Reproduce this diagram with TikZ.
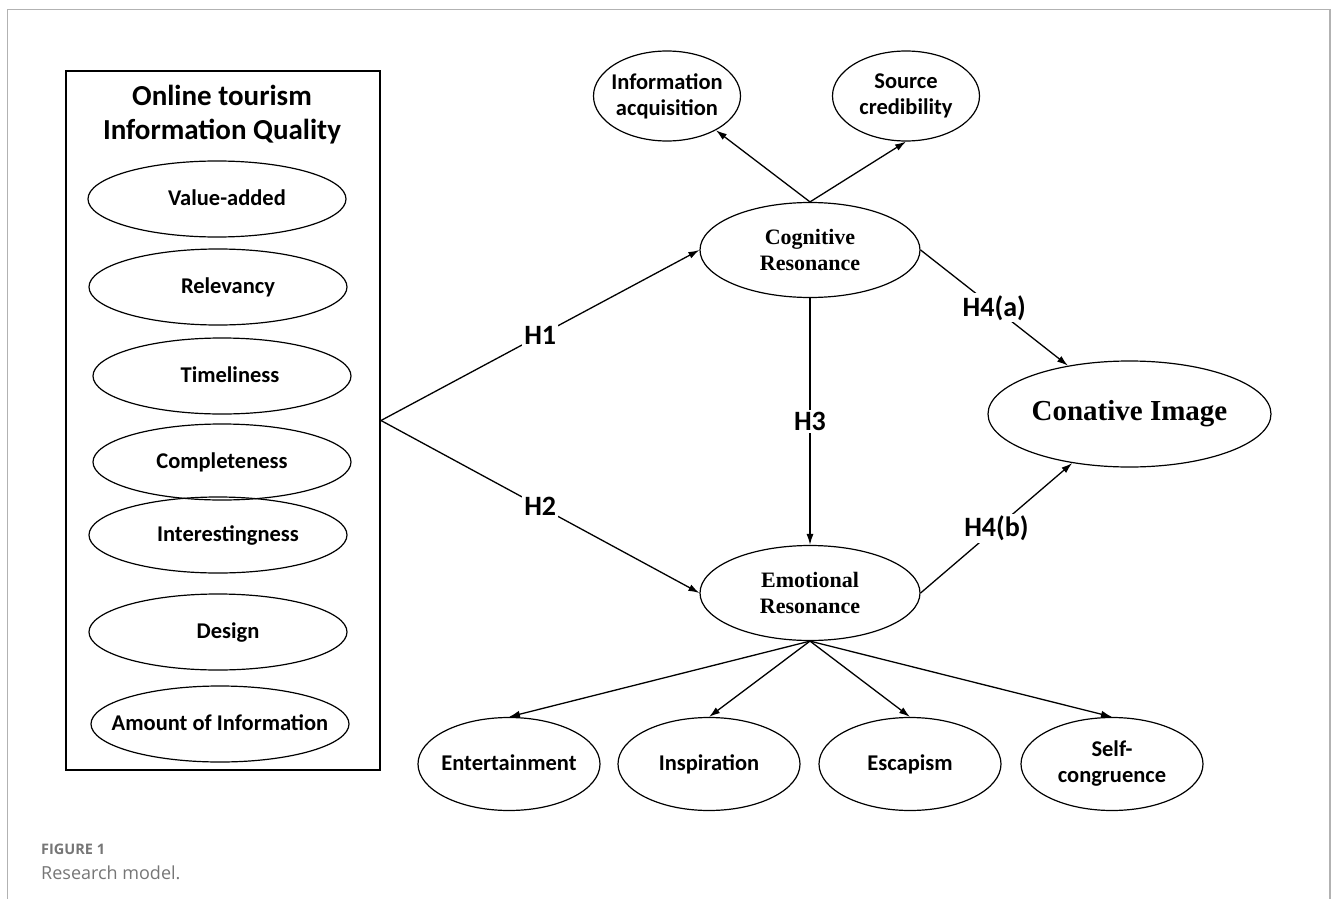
\documentclass[tikz,border=0pt]{standalone}
\usepackage{fontspec}
\setmainfont{Carlito}
\newfontfamily\timesfont{Liberation Serif}
\newfontfamily\captionfont{Open Sans}
\usepackage{xcolor}
\usetikzlibrary{arrows.meta,shapes}
\definecolor{framegray}{RGB}{178,178,178}
\definecolor{capgray}{RGB}{118,118,118}

\begin{document}
\begin{tikzpicture}[x=1pt,y=-1pt,
	dim/.style={draw,ellipse,line width=1.2pt,inner ysep=0pt,inner xsep=-40pt,align=center,
		font=\fontsize{22.5}{26}\selectfont\bfseries},
	one/.style={text height=16pt,text depth=3pt},
	qual/.style={dim,one,minimum width=258pt,minimum height=76pt},
	sub/.style={dim,minimum width=182pt,minimum height=93pt},
	res/.style={dim,minimum width=220pt,minimum height=95pt,
		font=\timesfont\fontsize{22}{26}\selectfont\bfseries},
	hyp/.style={fill=white,inner sep=2pt,font=\fontsize{28}{30}\selectfont\bfseries}]
	\useasboundingbox (0,0) rectangle (1331,899);
	% page frame
	\draw[framegray,line width=1.3pt] (7.5,899) -- (7.5,9.5) -- (1330,9.5) -- (1330,899);
	% quality box
	\node[draw,line width=2pt,minimum width=314pt,minimum height=699pt,inner sep=0pt] (box) at (223,420.5) {};
	\node[font=\fontsize{29}{34}\selectfont\bfseries,align=center] (title) at (222,115) {Online tourism\\Information Quality};
	\node[qual] (val) at (217,199) {\hspace*{20pt}Value-added};
	\node[qual] (rel) at (218,287) {\hspace*{20pt}Relevancy};
	\node[qual] (tim) at (222,376) {\hspace*{16pt}Timeliness};
	\node[qual] (com) at (222,462) {Completeness};
	\node[qual] (int) at (218,535) {\hspace*{20pt}Interestingness};
	\node[qual] (des) at (218,632) {\hspace*{20pt}Design};
	\node[qual] (amo) at (220,724) {Amount of Information};
	\coordinate (branch) at (box.east);
	% nodes
	\node[res] (cog) at (810,250) {Cognitive\\Resonance};
	\node[res] (emo) at (810,593) {Emotional\\Resonance};
	\node[dim,minimum width=147pt,minimum height=90pt] (acq) at (667,96) {Information\\acquisition};
	\node[dim,minimum width=147pt,minimum height=90pt] (cred) at (906,96) {Source\\credibility};
	\node[dim,one,minimum width=283pt,minimum height=106pt,font=\timesfont\fontsize{29}{32}\selectfont\bfseries] (con) at (1129.5,414) {Conative Image};
	\node[sub,one] (ent) at (509,764) {Entertainment};
	\node[sub,one] (ins) at (709,764) {Inspiration};
	\node[sub,one] (esc) at (910,764) {Escapism};
	\node[sub] (sel) at (1112,764) {Self-\\congruence};
	%
	\path[-{Latex[length=11pt,width=7pt]},line width=1.3pt]
	% hypotheses
	(branch) edge node[hyp]{H1} (cog.west)
	(branch) edge node[hyp]{H2} (emo.west)
	(cog.south) edge node[hyp]{H3} (emo.north)
	(cog.east) edge node[hyp]{H4(a)} (con)
	(emo.east) edge node[hyp]{H4(b)} (con)
	% dimensions
	(cog.north) edge (acq.-35)
	(cog.north) edge (cred.south)
	(emo.south) edge (ent.north)
	(emo.south) edge (ins.north)
	(emo.south) edge (esc.north)
	(emo.south) edge (sel.north);
	% caption
	\node[anchor=west,inner sep=0pt,text=capgray,font=\captionfont\fontsize{14.5}{16}\selectfont\bfseries] (fig) at (41,849) {FIGURE 1};
	\node[anchor=west,inner sep=0pt,text=capgray,font=\captionfont\fontsize{18}{20}\selectfont] (cap) at (41,873) {Research model.};
\end{tikzpicture}
\end{document}
